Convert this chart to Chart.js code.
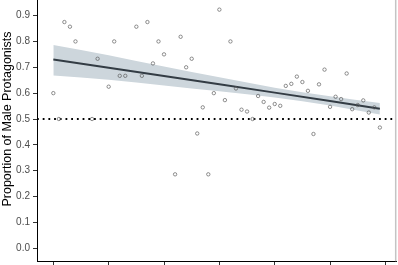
<!DOCTYPE html>
<html><head><meta charset="utf-8">
<script src="https://cdn.jsdelivr.net/npm/chart.js@4.4.1/dist/chart.umd.min.js"></script>
<style>
html,body{margin:0;padding:0;background:#fff;overflow:hidden;width:398px;height:265px;}
#wrap{position:absolute;left:0;top:-28px;width:401px;height:294px;}
</style></head><body>
<div id="wrap"><canvas id="c" width="401" height="294"></canvas></div>
<script>
// Year index (0 = first year of the series), proportion of male protagonists
const yearIndex = [0,1,2,3,4,7,8,10,11,12,13,15,16,17,18,19,20,22,23,24,25,26,27,28,29,30,31,32,33,34,35,36,37,38,39,40,41,42,43,44,45,46,47,48,49,50,51,52,53,54,55,56,57,58,59];
const proportion = [0.600,0.500,0.875,0.857,0.800,0.500,0.733,0.625,0.800,0.667,0.667,0.857,0.667,0.875,0.715,0.800,0.750,0.286,0.818,0.700,0.733,0.444,0.545,0.286,0.600,0.923,0.573,0.800,0.618,0.536,0.529,0.500,0.589,0.566,0.544,0.558,0.551,0.628,0.636,0.664,0.643,0.609,0.442,0.634,0.691,0.547,0.586,0.577,0.676,0.538,0.554,0.572,0.525,0.545,0.467];
// Fitted trend line and its confidence band
const fitX     = [0, 10, 20, 30, 40, 50, 59];
const fitY     = [0.730, 0.698, 0.666, 0.634, 0.602, 0.570, 0.540];
const fitUpper = [0.786, 0.747, 0.703, 0.661, 0.621, 0.588, 0.562];
const fitLower = [0.668, 0.652, 0.630, 0.607, 0.583, 0.552, 0.517];
// Reference line (parity)
const parity = 0.5;
// Axis ticks and ranges
const yTicks = [0.0,0.1,0.2,0.3,0.4,0.5,0.6,0.7,0.8,0.9];
const xTicks = [0,10,20,30,40,50,60];
const xRange = [-2.95, 61.95];
const yRange = [-0.05, 1.05];

const pts = yearIndex.map((x,i)=>({x, y: proportion[i]}));
const fitPts = fitX.map((x,i)=>({x, y: fitY[i]}));
const upPts = fitX.map((x,i)=>({x, y: fitUpper[i]}));
const loPts = fitX.map((x,i)=>({x, y: fitLower[i]}));
const refPts = xRange.map(x=>({x, y: parity}));

const rightEdge = { id:'rightEdge', afterDraw(chart){
  const {ctx, chartArea:a} = chart;
  ctx.save(); ctx.strokeStyle='#c4c4c4'; ctx.lineWidth=1.5;
  ctx.beginPath(); ctx.moveTo(a.right-0.5, a.top); ctx.lineTo(a.right-0.5, a.bottom); ctx.stroke();
  ctx.restore();
}};

const zeroPad = s => { s.paddingTop = 0; s.paddingBottom = 0; s.paddingLeft = 0; s.paddingRight = 0; };
const FONT = 'Liberation Sans';
new Chart(document.getElementById('c'), {
  type: 'scatter',
  data: { datasets: [
    { data: pts, pointRadius: 1.7, pointBorderWidth: 0.8, pointBorderColor: 'rgba(90,90,90,0.85)', pointBackgroundColor: 'rgba(255,255,255,0)', showLine: false },
    { data: fitPts, showLine: true, borderColor: '#333c44', borderWidth: 2, pointRadius: 0 },
    { data: refPts, showLine: true, borderColor: '#000', borderWidth: 1.8, borderDash: [1.8, 3.9], pointRadius: 0 },
    { data: upPts, showLine: true, borderWidth: 0, borderColor: 'rgba(0,0,0,0)', pointRadius: 0, fill: '+1', backgroundColor: '#cdd6dc', cubicInterpolationMode: 'monotone' },
    { data: loPts, showLine: true, borderWidth: 0, borderColor: 'rgba(0,0,0,0)', pointRadius: 0, fill: false, cubicInterpolationMode: 'monotone' }
  ]},
  options: {
    responsive: false, animation: false, devicePixelRatio: 1,
    layout: { padding: { top: 0, right: 2, bottom: 0, left: 0 } },
    plugins: { legend: { display: false }, tooltip: { enabled: false } },
    scales: {
      x: { type: 'linear', min: xRange[0], max: xRange[1],
        afterBuildTicks: s => { s.ticks = xTicks.map(v => ({ value: v })); },
        afterFit: s => { s.height = 4; zeroPad(s); },
        ticks: { display: false },
        grid: { drawOnChartArea: false, drawTicks: true, tickLength: 4, color: '#333' },
        border: { color: '#000', width: 1 } },
      y: { min: yRange[0], max: yRange[1],
        afterBuildTicks: s => { s.ticks = yTicks.map(v => ({ value: v })); },
        afterFit: s => { s.width = 37; zeroPad(s); },
        ticks: { font: { family: FONT, size: 10 }, color: '#4d4d4d', padding: 3, callback: v => Number(v).toFixed(1) },
        grid: { drawOnChartArea: false, drawTicks: true, tickLength: 4, color: '#333' },
        border: { color: '#000', width: 1 },
        title: { display: true, text: 'Proportion of Male Protagonists', color: '#000', font: { family: FONT, size: 12.5 }, padding: { top: 0.5, bottom: 0 } } }
    }
  },
  plugins: [rightEdge]
});
</script>
</body></html>
